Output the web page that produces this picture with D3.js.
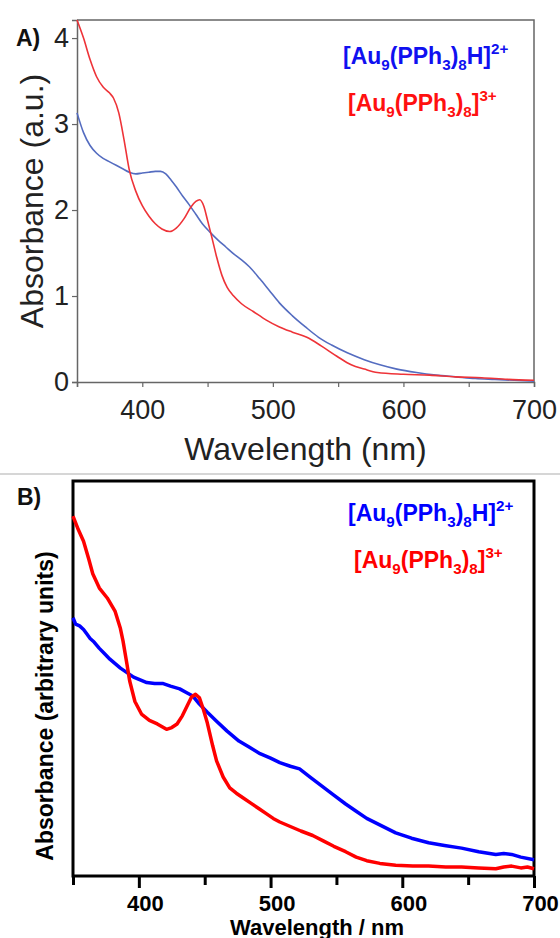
<!DOCTYPE html>
<html>
<head>
<meta charset="utf-8">
<script src="https://cdn.jsdelivr.net/npm/d3@7"></script>
<style>
  body { margin: 0; background: #fff; }
  svg { display: block; }
</style>
</head>
<body>
<svg id="fig" width="560" height="938"></svg>
<script>
// ---- data ----
// panel A : smooth spectra, absorbance (a.u.)
const waveA_red = [350, 355, 360, 365, 370, 375, 378, 382, 386, 390, 395, 400, 405, 410, 415, 421, 426, 432, 437, 441, 444, 447, 450, 453, 457, 461, 465, 470, 476, 485, 495, 505, 515, 526, 537, 549, 560, 570, 580, 600, 620, 640, 660, 680, 700];
const absA_red  = [4.21, 4.0, 3.75, 3.55, 3.43, 3.36, 3.3, 3.13, 2.82, 2.47, 2.22, 2.05, 1.93, 1.84, 1.78, 1.75, 1.79, 1.9, 2.03, 2.1, 2.12, 2.05, 1.88, 1.7, 1.45, 1.24, 1.1, 1.0, 0.91, 0.82, 0.72, 0.64, 0.58, 0.52, 0.42, 0.3, 0.2, 0.15, 0.11, 0.09, 0.08, 0.06, 0.05, 0.03, 0.02];

const waveA_blue = [350, 355, 360, 365, 370, 375, 380, 385, 390, 395, 400, 405, 410, 414, 418, 422, 426, 431, 436, 441, 446, 452, 458, 464, 470, 476, 482, 490, 497, 505, 515, 525, 535, 545, 557, 570, 582, 595, 610, 625, 640, 655, 670, 685, 700];
const absA_blue  = [3.13, 2.9, 2.75, 2.66, 2.6, 2.56, 2.52, 2.48, 2.44, 2.42, 2.43, 2.44, 2.45, 2.45, 2.42, 2.35, 2.27, 2.16, 2.06, 1.95, 1.84, 1.74, 1.65, 1.57, 1.49, 1.42, 1.34, 1.2, 1.07, 0.92, 0.77, 0.64, 0.52, 0.43, 0.34, 0.26, 0.2, 0.15, 0.11, 0.08, 0.06, 0.04, 0.03, 0.02, 0.01];

// panel B : measured spectra, arbitrary units
const waveB_red = [350, 354, 358, 362, 365, 370, 376, 382, 386, 388, 391, 393, 397, 402, 408, 414, 421, 425, 429, 433, 437, 440, 443, 446, 449, 452, 456, 459, 464, 469, 474, 479, 485, 491, 497, 502, 507, 515, 523, 532, 540, 548, 557, 565, 573, 583, 595, 608, 620, 633, 645, 658, 671, 677, 683, 690, 695, 700];
const absB_red  = [4.0, 3.85, 3.72, 3.52, 3.36, 3.2, 3.09, 2.94, 2.75, 2.61, 2.35, 2.17, 1.94, 1.8, 1.73, 1.69, 1.63, 1.65, 1.69, 1.78, 1.9, 1.99, 2.02, 1.98, 1.85, 1.7, 1.45, 1.28, 1.1, 0.98, 0.92, 0.87, 0.81, 0.75, 0.69, 0.64, 0.6, 0.55, 0.5, 0.45, 0.39, 0.33, 0.27, 0.21, 0.17, 0.14, 0.12, 0.11, 0.11, 0.10, 0.10, 0.09, 0.08, 0.10, 0.11, 0.09, 0.10, 0.08];

const waveB_blue = [350, 352, 355, 358, 360, 363, 366, 370, 374, 378, 382, 386, 391, 396, 401, 406, 412, 418, 424, 431, 436, 441, 446, 452, 459, 467, 476, 484, 492, 500, 507, 515, 522, 530, 539, 548, 557, 565, 573, 584, 595, 607, 620, 632, 645, 658, 671, 677, 683, 690, 700];
const absB_blue  = [2.87, 2.8, 2.78, 2.74, 2.7, 2.64, 2.6, 2.53, 2.47, 2.41, 2.36, 2.31, 2.26, 2.21, 2.18, 2.15, 2.14, 2.14, 2.11, 2.08, 2.04, 2.0, 1.91, 1.82, 1.72, 1.61, 1.5, 1.43, 1.36, 1.31, 1.26, 1.22, 1.19, 1.1, 1.0, 0.9, 0.8, 0.72, 0.64, 0.56, 0.48, 0.42, 0.37, 0.34, 0.31, 0.27, 0.24, 0.25, 0.24, 0.21, 0.18];

// ticks and labels
const xTicksMajor = [400, 500, 600, 700];
const xTicksMinor = [350, 450, 550, 650];
const yTicksA = [0, 1, 2, 3, 4];

// legend formulas: [text, mode]
const nameBlue = [["[Au", ""], ["9", "sub"], ["(PPh", ""], ["3", "sub"], [")", ""], ["8", "sub"], ["H]", ""], ["2+", "sup"]];
const nameRed  = [["[Au", ""], ["9", "sub"], ["(PPh", ""], ["3", "sub"], [")", ""], ["8", "sub"], ["]", ""], ["3+", "sup"]];

const svg = d3.select('#fig');
const zip = (xs, ys) => xs.map((x, i) => [x, ys[i]]);

function chemLabel(g, parts, x, y, fs, color) {
    const t = g.append('text')
        .attr('x', x).attr('y', y)
        .attr('font-family', 'Liberation Sans, Arial, sans-serif')
        .attr('font-weight', 'bold')
        .attr('font-size', fs)
        .attr('fill', color);
    let cur = 0;
    parts.forEach(([s, m]) => {
        const off = m === 'sub' ? 0.28 * fs : m === 'sup' ? -0.42 * fs : 0;
        t.append('tspan')
            .attr('dy', off - cur)
            .attr('font-size', m ? fs * 0.66 : fs)
            .text(s);
        cur = off;
    });
}

// ================= panel A =================
function drawPanelA() {
    const left = 77, right = 534, top = 20, bottom = 382;
    const x = d3.scaleLinear().domain([350, 700]).range([left, right]);
    const y = d3.scaleLinear().domain([0, 4.21]).range([bottom, top]);
    const g = svg.append('g');
    const axisCol = '#666';
    const font = 'Liberation Sans, Arial, sans-serif';

    // bottom axis (major + minor ticks)
    const xAx = g.append('g').attr('transform', `translate(0,${bottom})`)
        .call(d3.axisBottom(x).tickValues(xTicksMajor.concat(xTicksMinor)).tickSize(5)
            .tickFormat(d => xTicksMajor.includes(d) ? d : ''));
    xAx.select('.domain').attr('stroke', axisCol).attr('stroke-width', 1.5);
    xAx.selectAll('.tick line').attr('stroke', axisCol).attr('stroke-width', 1.2);
    xAx.selectAll('.tick text').attr('font-family', font).attr('font-size', 27)
        .attr('fill', '#222').attr('dy', 0).attr('y', 37);

    const yAx = g.append('g').attr('transform', `translate(${left},0)`)
        .call(d3.axisLeft(y).tickValues(yTicksA).tickSize(5).tickFormat(d3.format('d')));
    yAx.select('.domain').attr('stroke', axisCol).attr('stroke-width', 1.5);
    yAx.selectAll('.tick line').attr('stroke', axisCol).attr('stroke-width', 1.2);
    yAx.selectAll('.tick text').attr('font-family', font).attr('font-size', 27)
        .attr('fill', '#222').attr('x', -8);

    // top + right frame
    g.append('path')
        .attr('d', `M${left},${top}H${right}V${bottom}`)
        .attr('fill', 'none').attr('stroke', axisCol).attr('stroke-width', 1.5);

    const line = d3.line().x(d => x(d[0])).y(d => y(d[1])).curve(d3.curveMonotoneX);
    g.append('path').datum(zip(waveA_blue, absA_blue))
        .attr('d', line).attr('fill', 'none').attr('stroke', '#546cc0').attr('stroke-width', 1.6);
    g.append('path').datum(zip(waveA_red, absA_red))
        .attr('d', line).attr('fill', 'none').attr('stroke', '#ee3338').attr('stroke-width', 1.6);

    g.append('text').attr('x', (left + right) / 2).attr('y', 460)
        .attr('text-anchor', 'middle').attr('font-family', font).attr('font-size', 32)
        .attr('fill', '#222').text('Wavelength (nm)');
    g.append('text').attr('transform', `translate(43,${(top + bottom) / 2}) rotate(-90)`)
        .attr('text-anchor', 'middle').attr('font-family', font).attr('font-size', 32)
        .attr('fill', '#222').text('Absorbance (a.u.)');

    g.append('text').attr('x', 16).attr('y', 46).attr('font-family', font)
        .attr('font-weight', 'bold').attr('font-size', 23).attr('fill', '#111').text('A)');

    chemLabel(g, nameBlue, 343, 64, 23, '#1010f0');
    chemLabel(g, nameRed, 348, 111, 23, '#ff1010');
}

// ================= panel B =================
function drawPanelB() {
    const left = 73, right = 534, top = 481, bottom = 876;
    const x = d3.scaleLinear().domain([350, 700]).range([left, right]);
    const y = d3.scaleLinear().domain([0, 4.39]).range([bottom, top]);
    const g = svg.append('g');
    const font = 'Liberation Sans, Arial, sans-serif';

    // minor ticks first, then major with labels
    const xMin = g.append('g').attr('transform', `translate(0,${bottom})`)
        .call(d3.axisBottom(x).tickValues(xTicksMinor).tickSize(9).tickFormat(''));
    xMin.select('.domain').remove();
    xMin.selectAll('.tick line').attr('stroke', '#000').attr('stroke-width', 3);

    const xAx = g.append('g').attr('transform', `translate(0,${bottom})`)
        .call(d3.axisBottom(x).tickValues(xTicksMajor).tickSize(12));
    xAx.select('.domain').remove();
    xAx.selectAll('.tick line').attr('stroke', '#000').attr('stroke-width', 3);
    xAx.selectAll('.tick text').attr('font-family', font).attr('font-weight', 'bold')
        .attr('font-size', 22).attr('fill', '#000').attr('dy', 0).attr('y', 35).attr('dx', 6);

    g.append('rect').attr('x', left).attr('y', top)
        .attr('width', right - left).attr('height', bottom - top)
        .attr('fill', 'none').attr('stroke', '#000').attr('stroke-width', 3);

    const line = d3.line().x(d => x(d[0])).y(d => y(d[1]));
    g.append('path').datum(zip(waveB_blue, absB_blue))
        .attr('d', line).attr('fill', 'none').attr('stroke', '#0000ff')
        .attr('stroke-width', 3.5).attr('stroke-linejoin', 'round');
    g.append('path').datum(zip(waveB_red, absB_red))
        .attr('d', line).attr('fill', 'none').attr('stroke', '#ff0000')
        .attr('stroke-width', 3.5).attr('stroke-linejoin', 'round');

    g.append('text').attr('x', 317).attr('y', 935)
        .attr('text-anchor', 'middle').attr('font-family', font).attr('font-weight', 'bold')
        .attr('font-size', 22).attr('fill', '#000').text('Wavelength / nm');
    g.append('text').attr('transform', `translate(53,706) rotate(-90)`)
        .attr('text-anchor', 'middle').attr('font-family', font).attr('font-weight', 'bold')
        .attr('font-size', 23).attr('fill', '#000').text('Absorbance (arbitrary units)');

    g.append('text').attr('x', 17).attr('y', 505).attr('font-family', font)
        .attr('font-weight', 'bold').attr('font-size', 23).attr('fill', '#111').text('B)');

    chemLabel(g, nameBlue, 348, 521, 23, '#0000ff');
    chemLabel(g, nameRed, 354, 568, 23, '#ff0000');
}

drawPanelA();
svg.append('line').attr('x1', 0).attr('x2', 560).attr('y1', 474).attr('y2', 474)
    .attr('stroke', '#c8c8c8').attr('stroke-width', 1.5);
drawPanelB();
</script>
</body>
</html>
